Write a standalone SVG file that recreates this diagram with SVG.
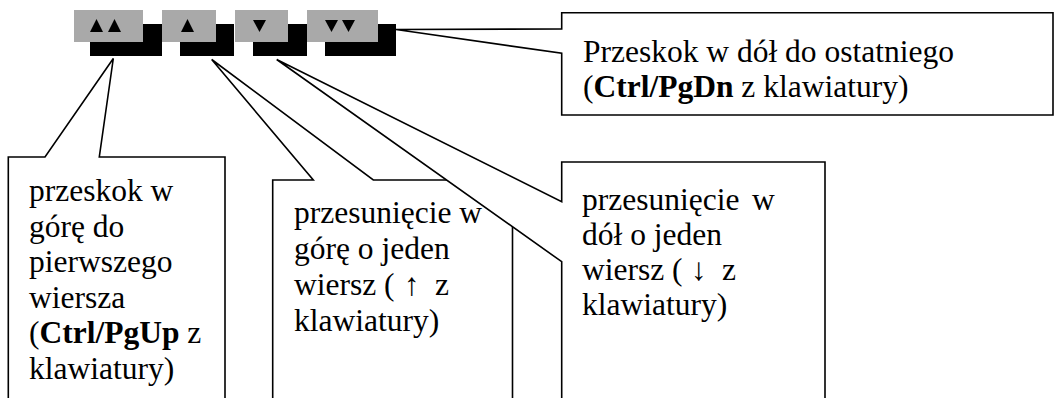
<svg xmlns="http://www.w3.org/2000/svg" width="1058" height="398" viewBox="0 0 1058 398">
<style>
.btn{fill:#a9a9a9}
.sh{fill:#000}
.tri{fill:#000}
.co{fill:#fff;stroke:#000;stroke-width:1.6;stroke-linejoin:miter}
.t{font-family:"Liberation Serif","Times New Roman",serif;font-size:31.5px;fill:#000}
.b{font-weight:bold}
</style>
<rect width="1058" height="398" fill="#fff"/>
<g id="toolbar">
  <g id="btn-first">
    <rect class="sh" x="90" y="24" width="72" height="32"/>
    <rect class="btn" x="74" y="10" width="69" height="32"/>
    <polygon class="tri" points="90,32 103,32 96.5,19"/>
    <polygon class="tri" points="108,32 121,32 114.5,19"/>
  </g>
  <g id="btn-up">
    <rect class="sh" x="180" y="24" width="54" height="32"/>
    <rect class="btn" x="162" y="10" width="54" height="32"/>
    <polygon class="tri" points="181,32 194,32 187.5,19"/>
  </g>
  <g id="btn-down">
    <rect class="sh" x="253" y="24" width="54" height="32"/>
    <rect class="btn" x="235" y="10" width="53" height="32"/>
    <polygon class="tri" points="253,20 266,20 259.5,32"/>
  </g>
  <g id="btn-last">
    <rect class="sh" x="325" y="24" width="71" height="32"/>
    <rect class="btn" x="307" y="10" width="71" height="32"/>
    <polygon class="tri" points="325,20 338,20 331.5,32"/>
    <polygon class="tri" points="342,20 355,20 348.5,32"/>
  </g>
</g>
<g id="connectors"></g>
<g id="callout-first">
  <polygon class="co" points="8.3,157 45,157 113.3,58.5 99.3,157 225,157 225,410 8.3,410"/>
</g>
<g id="callout-up">
  <polygon class="co" points="272.7,180 313.3,180 211.7,59.5 373.3,180 512.5,180 512.5,410 272.7,410"/>
</g>
<g id="callout-down">
  <polygon class="co" points="561.7,162 825,162 825,410 561.7,410 561.7,261.7 276.7,59.5 561.7,201.7"/>
</g>
<g id="callout-last">
  <polygon class="co" points="561.7,12.7 1053,12.7 1053,115 561.7,115 561.7,53.3 396,29.5 561.7,29"/>
</g>
<g id="labels">
  <text class="t" x="29" y="201">przeskok w</text>
  <text class="t" x="29" y="236.5">górę do</text>
  <text class="t" x="29" y="272">pierwszego</text>
  <text class="t" x="29" y="307.5">wiersza</text>
  <text class="t" x="29" y="343">(<tspan class="b">Ctrl/PgUp</tspan> z</text>
  <text class="t" x="29" y="378.5">klawiatury)</text>

  <text class="t" x="294" y="223">przesunięcie w</text>
  <text class="t" x="294" y="259">górę o jeden</text>
  <text class="t" x="294" y="295">wiersz (<tspan x="404">↑</tspan><tspan x="435">z</tspan></text>
  <text class="t" x="294" y="331">klawiatury)</text>

  <text class="t" x="582" y="210">przesunięcie<tspan x="752">w</tspan></text>
  <text class="t" x="582" y="245">dół o jeden</text>
  <text class="t" x="582" y="280">wiersz (<tspan x="691">↓</tspan><tspan x="722">z</tspan></text>
  <text class="t" x="582" y="315">klawiatury)</text>

  <text class="t" x="583" y="61.5">Przeskok w dół do ostatniego</text>
  <text class="t" x="583" y="96.5">(<tspan class="b">Ctrl/PgDn</tspan> z klawiatury)</text>
</g>
</svg>
